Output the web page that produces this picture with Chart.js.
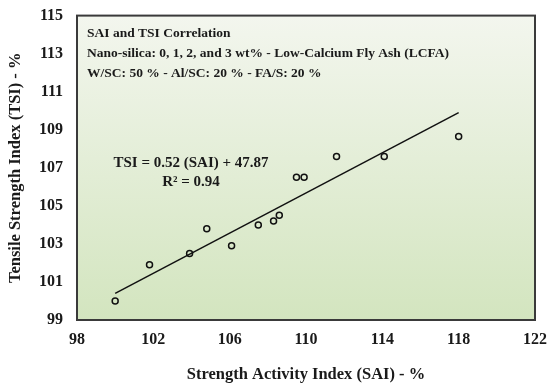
<!DOCTYPE html>
<html>
<head>
<meta charset="utf-8">
<script src="https://cdn.jsdelivr.net/npm/chart.js@4"></script>
<style>
  html, body { margin: 0; padding: 0; background: #ffffff; }
  #wrap { width: 550px; height: 389px; }
</style>
</head>
<body>
<div id="wrap"><canvas id="chartCanvas" width="550" height="389"></canvas></div>
<script>
// measured values (SAI %, TSI %)
const saiValues = [100.0, 101.8, 103.9, 104.8, 106.1, 107.5, 108.3, 108.6, 109.5, 109.9, 111.6, 114.1, 118.0];
const tsiValues = [100.0, 101.9, 102.5, 103.8, 102.9, 104.0, 104.2, 104.5, 106.5, 106.5, 107.6, 107.6, 108.65];

// fitted trend line end points
const trendX = [100, 118];
const trendY = [100.4, 109.9];

const xTicks = [98, 102, 106, 110, 114, 118, 122];
const yTicks = [99, 101, 103, 105, 107, 109, 111, 113, 115];

const infoLines = [
  "SAI and TSI Correlation",
  "Nano-silica: 0, 1, 2, and 3 wt% - Low-Calcium Fly Ash (LCFA)",
  "W/SC: 50 % - Al/SC: 20 % - FA/S: 20 %",
];
const eqLines = ["TSI = 0.52 (SAI) + 47.87", "R² = 0.94"];

const serif = "'Liberation Serif', 'Times New Roman', serif";

const plotFrame = {
  id: "plotFrame",
  beforeDatasetsDraw(chart) {
    const { ctx, chartArea: a } = chart;
    ctx.save();
    const g = ctx.createLinearGradient(0, a.top, 0, a.bottom);
    g.addColorStop(0, "#f3f6ee");
    g.addColorStop(1, "#d3e5bf");
    ctx.fillStyle = g;
    ctx.fillRect(a.left, a.top, a.right - a.left, a.bottom - a.top);
    ctx.restore();
  },
  afterDraw(chart) {
    const { ctx, chartArea: a } = chart;
    ctx.save();
    ctx.strokeStyle = "#3a3a3a";
    ctx.lineWidth = 2;
    ctx.strokeRect(a.left, a.top, a.right - a.left, a.bottom - a.top);

    ctx.fillStyle = "#1a1a1a";
    ctx.font = "bold 13.5px " + serif;
    ctx.textAlign = "left";
    ctx.textBaseline = "middle";
    infoLines.forEach((t, i) => ctx.fillText(t, a.left + 10, a.top + 18 + i * 20));

    ctx.font = "bold 15px " + serif;
    ctx.textAlign = "center";
    ctx.fillText(eqLines[0], a.left + 114, a.top + 148);
    ctx.fillText(eqLines[1], a.left + 114, a.top + 167);
    ctx.restore();
  },
};

new Chart(document.getElementById("chartCanvas"), {
  type: "scatter",
  data: {
    datasets: [
      {
        label: "Data",
        data: saiValues.map((x, i) => ({ x, y: tsiValues[i] })),
        pointRadius: 3,
        pointBorderWidth: 1.5,
        pointBorderColor: "#111111",
        pointBackgroundColor: "rgba(0,0,0,0)",
        showLine: false,
      },
      {
        label: "Trend",
        data: trendX.map((x, i) => ({ x, y: trendY[i] })),
        showLine: true,
        borderColor: "#111111",
        borderWidth: 1.5,
        pointRadius: 0,
      },
    ],
  },
  options: {
    responsive: false,
    animation: false,
    layout: { padding: { top: 15, right: 15, left: 0, bottom: 0 } },
    plugins: { legend: { display: false }, tooltip: { enabled: false } },
    scales: {
      x: {
        type: "linear",
        min: 98,
        max: 122,
        afterBuildTicks: (s) => { s.ticks = xTicks.map((v) => ({ value: v })); },
        afterFit: (s) => { s.height = 69; },
        grid: { display: false },
        border: { display: false },
        ticks: { color: "#1a1a1a", font: { family: serif, size: 16, weight: "bold" }, padding: 2, maxRotation: 0 },
        title: {
          display: true,
          text: "Strength Activity Index (SAI) - %",
          color: "#1a1a1a",
          font: { family: serif, size: 16.5, weight: "bold" },
          padding: { top: 17 },
        },
      },
      y: {
        min: 99,
        max: 115,
        afterBuildTicks: (s) => { s.ticks = yTicks.map((v) => ({ value: v })); },
        afterFit: (s) => { s.width = 77; },
        grid: { display: false },
        border: { display: false },
        ticks: { color: "#1a1a1a", font: { family: serif, size: 16, weight: "bold" }, padding: 6 },
        title: {
          display: true,
          text: "Tensile Strength Index (TSI) - %",
          color: "#1a1a1a",
          font: { family: serif, size: 16.5, weight: "bold" },
          padding: { top: 6, bottom: 0 },
        },
      },
    },
  },
  plugins: [plotFrame],
});
</script>
</body>
</html>
